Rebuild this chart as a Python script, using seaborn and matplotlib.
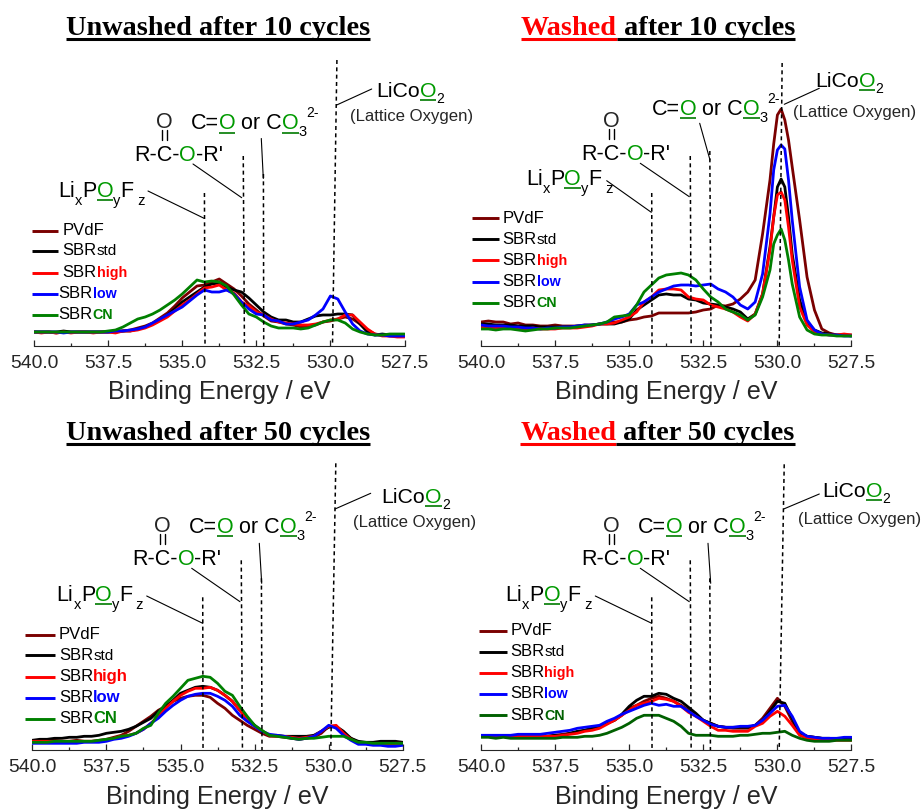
import pandas as pd
import seaborn as sns
import matplotlib.pyplot as plt

# binding energy grid (eV)
energy = [540, 539.75, 539.5, 539.25, 539, 538.75, 538.5, 538.25,
          538, 537.75, 537.5, 537.25, 537, 536.75, 536.5, 536.25,
          536, 535.75, 535.5, 535.25, 535, 534.75, 534.5, 534.25,
          534, 533.75, 533.5, 533.25, 533, 532.75, 532.5, 532.25,
          532, 531.75, 531.5, 531.25, 531, 530.75, 530.5, 530.25,
          530, 529.75, 529.5, 529.25, 529, 528.75, 528.5, 528.25,
          528, 527.75, 527.5]
# washed 10 cycles has a sharp peak, so a few more points there
energy_w10 = energy[:40] + [530.125, 530, 529.875, 529.75, 529.625] + energy[42:]

series = ['PVdF', 'SBRstd', 'SBRhigh', 'SBRlow', 'SBRCN']

# intensity (arbitrary units)
u10_pvdf = [14, 14, 14, 13, 14, 14, 14, 14, 14, 14, 14, 15, 15, 16, 18, 20, 23, 28, 33, 40, 48, 54, 60, 61,
            64, 67, 62, 57, 50, 42, 36, 30, 25, 24, 22, 21, 19, 20, 21, 24, 25, 27, 29, 27, 22, 16, 12, 11, 10, 10, 10]
u10_std = [14, 14, 14, 14, 15, 14, 14, 14, 14, 14, 14, 14, 15, 15, 17, 19, 22, 26, 31, 37, 44, 49, 54, 59,
           62, 63, 59, 56, 54, 48, 41, 34, 29, 26, 26, 24, 24, 27, 30, 31, 31, 32, 32, 31, 22, 14, 11, 12, 11, 11, 10]
u10_high = [14, 13, 14, 13, 14, 13, 14, 14, 13, 14, 14, 13, 15, 15, 16, 18, 21, 25, 29, 35, 41, 46, 52, 58,
            59, 61, 56, 53, 44, 40, 34, 31, 27, 24, 23, 22, 21, 21, 22, 24, 26, 27, 31, 31, 24, 17, 12, 10, 10, 9, 9]
u10_low = [14, 14, 14, 14, 13, 14, 14, 14, 14, 14, 14, 15, 15, 16, 17, 19, 23, 27, 31, 35, 39, 45, 51, 56,
           54, 54, 56, 52, 44, 37, 32, 31, 26, 25, 22, 22, 24, 26, 31, 37, 50, 47, 34, 22, 15, 12, 11, 11, 10, 10, 10]
u10_cn = [14, 14, 14, 14, 14, 14, 14, 14, 14, 14, 15, 16, 19, 23, 27, 29, 32, 36, 41, 46, 52, 59, 66, 64,
          65, 64, 60, 51, 41, 32, 29, 24, 20, 18, 18, 18, 17, 18, 21, 24, 26, 26, 23, 17, 14, 12, 11, 11, 12, 12, 12]

w10_pvdf = [24, 25, 24, 24, 22, 23, 21, 21, 20, 20, 21, 20, 20, 20, 21, 21, 22, 23, 24, 24, 26, 27, 29, 30,
            33, 33, 33, 33, 33, 34, 36, 37, 41, 40, 42, 47, 54, 66, 112, 166, 202, 231, 237, 226, 206, 179, 126,
            69, 36, 17, 13, 11, 11, 11]
w10_std = [22, 22, 21, 21, 21, 20, 20, 20, 19, 19, 19, 19, 19, 20, 20, 21, 22, 22, 22, 24, 27, 36, 41, 46,
           51, 52, 51, 51, 47, 46, 43, 42, 41, 39, 37, 34, 27, 32, 52, 99, 129, 159, 167, 159, 129, 92, 46,
           24, 16, 13, 12, 11, 11, 10]
w10_high = [19, 19, 18, 19, 18, 18, 17, 18, 17, 17, 17, 18, 18, 18, 19, 20, 22, 22, 23, 26, 29, 34, 44, 49,
            56, 57, 57, 56, 49, 47, 46, 41, 39, 37, 34, 29, 25, 32, 52, 96, 129, 151, 154, 146, 119, 86, 39,
            21, 14, 12, 11, 11, 12, 11]
w10_low = [21, 20, 20, 20, 19, 19, 18, 18, 17, 18, 18, 19, 19, 20, 21, 21, 22, 24, 27, 29, 32, 41, 44, 49,
           54, 57, 60, 61, 61, 60, 61, 62, 57, 54, 49, 41, 37, 44, 72, 132, 176, 196, 201, 197, 166, 126, 59,
           26, 16, 12, 11, 11, 10, 10]
w10_cn = [17, 17, 16, 17, 17, 16, 15, 16, 17, 17, 18, 18, 18, 19, 20, 21, 22, 24, 29, 30, 31, 41, 54, 61,
          68, 71, 72, 73, 71, 66, 57, 49, 44, 37, 34, 31, 26, 31, 49, 76, 102, 111, 117, 106, 86, 62, 29,
          16, 12, 11, 11, 10, 10, 10]

u50_pvdf = [9, 9, 9, 10, 9, 9, 10, 9, 9, 10, 11, 13, 15, 19, 24, 29, 34, 40, 44, 49, 52, 54, 55, 55,
            53, 47, 42, 35, 30, 25, 21, 17, 14, 14, 13, 12, 11, 12, 13, 17, 24, 24, 17, 12, 8, 7, 6, 6, 6, 7, 7]
u50_std = [10, 11, 11, 12, 12, 13, 13, 14, 14, 15, 17, 18, 19, 21, 24, 28, 32, 39, 44, 50, 57, 60, 63, 64,
           63, 60, 55, 49, 40, 32, 25, 19, 15, 15, 14, 14, 14, 14, 15, 19, 23, 24, 19, 12, 9, 8, 8, 9, 9, 9, 8]
u50_high = [9, 9, 9, 9, 9, 9, 9, 9, 9, 9, 10, 12, 14, 15, 17, 21, 27, 34, 42, 49, 55, 59, 62, 62,
            63, 60, 55, 49, 40, 30, 24, 19, 15, 14, 14, 13, 12, 13, 14, 19, 24, 25, 17, 11, 7, 7, 6, 6, 6, 7, 7]
u50_low = [7, 7, 7, 7, 7, 7, 7, 8, 8, 8, 9, 11, 12, 14, 17, 21, 27, 32, 39, 45, 50, 54, 56, 57,
           57, 54, 50, 44, 35, 29, 24, 19, 16, 15, 14, 12, 11, 12, 14, 19, 25, 22, 15, 10, 6, 6, 5, 5, 4, 4, 5]
u50_cn = [8, 8, 8, 9, 9, 9, 9, 9, 9, 10, 11, 12, 14, 15, 17, 22, 25, 37, 47, 54, 62, 70, 72, 74,
          73, 67, 59, 55, 44, 34, 25, 20, 15, 14, 13, 12, 11, 12, 12, 13, 14, 14, 14, 11, 8, 8, 7, 7, 7, 7, 7]

w50_pvdf = [14, 14, 14, 14, 14, 14, 14, 14, 14, 14, 15, 16, 17, 18, 20, 22, 24, 27, 30, 35, 42, 45, 49, 52,
            54, 52, 49, 45, 40, 35, 30, 27, 24, 23, 22, 22, 22, 25, 32, 42, 52, 44, 29, 17, 14, 13, 12, 11, 11, 11, 11]
w50_std = [14, 14, 14, 14, 14, 14, 14, 14, 14, 14, 15, 15, 17, 19, 20, 22, 24, 27, 30, 36, 44, 50, 54, 54,
           57, 56, 52, 49, 43, 37, 30, 27, 24, 23, 23, 23, 23, 25, 30, 39, 49, 47, 32, 17, 14, 13, 12, 12, 11, 11, 11]
w50_high = [14, 14, 13, 14, 13, 14, 14, 14, 14, 14, 14, 15, 16, 17, 19, 20, 22, 26, 30, 35, 40, 45, 47, 49,
            52, 51, 49, 44, 38, 34, 29, 24, 20, 20, 19, 19, 19, 24, 27, 34, 39, 34, 25, 15, 12, 11, 11, 10, 10, 10, 10]
w50_low = [15, 15, 15, 15, 15, 16, 16, 16, 16, 17, 18, 19, 20, 22, 23, 24, 25, 29, 32, 36, 39, 42, 45, 47,
           45, 46, 44, 44, 39, 34, 30, 26, 24, 23, 23, 24, 24, 25, 30, 37, 44, 45, 34, 19, 14, 13, 12, 12, 12, 13, 13]
w50_cn = [13, 13, 12, 13, 12, 12, 12, 12, 12, 12, 12, 13, 13, 13, 14, 14, 15, 17, 20, 23, 27, 32, 35, 35,
          35, 32, 29, 24, 17, 15, 15, 15, 14, 14, 14, 15, 15, 16, 17, 17, 18, 19, 15, 12, 10, 9, 9, 9, 10, 10, 10]

# dashed peak markers: energy at top, energy at bottom, height at top
peak_top = {'u10': [534.25, 532.94, 532.26, 529.78], 'w10': [534.24, 532.94, 532.28, 529.84],
            'u50': [534.25, 532.95, 532.27, 529.76], 'w50': [534.24, 532.94, 532.28, 529.77]}
peak_bottom = {'u10': [534.23, 532.90, 532.25, 529.93], 'w10': [534.23, 532.91, 532.24, 529.94],
               'u50': [534.24, 532.91, 532.25, 529.93], 'w50': [534.23, 532.91, 532.26, 529.94]}
peak_height = {'u10': [153, 190, 172, 286], 'w10': [153, 190, 195, 283],
               'u50': [153, 190, 172, 287], 'w50': [153, 190, 172, 286]}

colors = ['#7a0000', '#000000', '#ff0000', '#0000ff', '#008000']
W, H = 923, 809
O_GREEN = '#009a00'
UL_GREEN = '#007a00'

sns.set_style('ticks')
plt.rcParams['font.family'] = ['Liberation Sans', 'DejaVu Sans']

fig = plt.figure(figsize=(W / 100, H / 100), dpi=100)
ov = fig.add_axes([0, 0, 1, 1], zorder=5)
ov.set_xlim(0, W)
ov.set_ylim(H, 0)
ov.axis('off')
ov.patch.set_alpha(0)
rend = fig.canvas.get_renderer()


def rich(x, y, parts):
    # parts: text, size, color, weight, y shift, underline
    for s, size, col, weight, dy, ul in parts:
        t = ov.text(x, y + dy, s, fontsize=size, color=col, fontweight=weight, va='baseline', ha='left')
        w = t.get_window_extent(rend).width
        if ul:
            ov.plot([x, x + w], [y + 3.2, y + 3.2], color=UL_GREEN, lw=1.2, solid_capstyle='butt')
        x += w
    return x


def title(x, y, parts, ul_y):
    for s, col in parts:
        t = ov.text(x, y, s, fontsize=20.3, color=col, fontweight='bold', family='Liberation Serif',
                    va='baseline', ha='left')
        w = t.get_window_extent(rend).width
        ov.plot([x, x + w], [ul_y, ul_y], color=col, lw=2.2, solid_capstyle='butt')
        x += w


def panel(key, x_en, values, x0, base, texts, leaders, legend, pal):
    ax = fig.add_axes([x0 / W, 1 - base / H, 370.5 / W, 300 / H], zorder=1)
    df = pd.concat([pd.DataFrame({'energy': x_en, 'intensity': v, 'binder': n}) for n, v in zip(series, values)])
    sns.lineplot(data=df, x='energy', y='intensity', hue='binder', palette=dict(zip(series, pal)),
                 hue_order=series, estimator=None, lw=2.0, legend=False, ax=ax)
    for a, b, h in zip(peak_top[key], peak_bottom[key], peak_height[key]):
        ax.plot([a, b], [h, 0], color='black', lw=1.1, ls=(0, (2.6, 2.2)), zorder=6)
    ax.set_xlim(540, 527.5)
    ax.set_ylim(0, 300)
    ax.set_xticks([540, 537.5, 535, 532.5, 530, 527.5])
    ax.set_xticklabels(['540.0', '537.5', '535.0', '532.5', '530.0', '527.5'], fontsize=13.9)
    ax.set_xticks([538.75, 536.25, 533.75, 531.25, 528.75], minor=True)
    ax.tick_params(axis='x', which='major', direction='in', length=4.5, width=0.9, pad=6.5)
    ax.tick_params(axis='x', which='minor', direction='in', length=2.3, width=0.9)
    ax.set_yticks([])
    ax.set_ylabel('')
    ax.set_xlabel('Binding Energy / eV', fontsize=18.1, labelpad=6)
    ax.patch.set_alpha(0)
    sns.despine(ax=ax, left=True)

    px, py = texts['li']
    rich(px, py, [('Li', 15.5, 'black', 'normal', 0, False), ('x', 10.5, 'black', 'normal', 8, False),
                  ('P', 15.5, 'black', 'normal', 0, False), ('O', 15.5, O_GREEN, 'normal', 0, True),
                  ('y', 10.5, 'black', 'normal', 8, False), ('F', 15.5, 'black', 'normal', 0, False),
                  (' z', 10.5, 'black', 'normal', 8, False)])
    px, py = texts['ester']
    rich(px, py, [('R-C-', 15.5, 'black', 'normal', 0, False), ('O', 15.5, O_GREEN, 'normal', 0, False),
                  ("-R'", 15.5, 'black', 'normal', 0, False)])
    px, py = texts['carbonyl']
    ov.text(px, py, 'O', fontsize=15.5, ha='center', va='baseline')
    ov.plot([px - 2.3, px - 2.3], [py + 2, py + 12], color='black', lw=1.0)
    ov.plot([px + 2.3, px + 2.3], [py + 2, py + 12], color='black', lw=1.0)
    px, py = texts['co3']
    end = rich(px, py, [('C=', 15.5, 'black', 'normal', 0, False), ('O', 15.5, O_GREEN, 'normal', 0, True),
                        (' or C', 15.5, 'black', 'normal', 0, False), ('O', 15.5, O_GREEN, 'normal', 0, True),
                        ('3', 10.5, 'black', 'normal', 7, False)])
    rich(end, py, [('2-', 10, 'black', 'normal', -12, False)])
    px, py = texts['licoo']
    rich(px, py, [('LiCo', 15.3, 'black', 'normal', 0, False), ('O', 15.3, O_GREEN, 'normal', 0, True),
                  ('2', 10, 'black', 'normal', 6, False)])
    px, py = texts['lattice']
    ov.text(px, py, '(Lattice Oxygen)', fontsize=12.1, ha='left', va='baseline')

    for (xa, ya), (xb, yb) in leaders:
        ov.plot([xa, xb], [ya, yb], color='black', lw=0.8)

    lx0, lx1, tx, ys, bold_size, tx_shift = legend
    labels = [[('PVdF', 12, 'black', 'normal', 0, False)],
              [('SBR', 12, 'black', 'normal', 0, False), ('std', 11, 'black', 'normal', 0, False)],
              [('SBR', 12, 'black', 'normal', 0, False), ('high', bold_size, pal[2], 'bold', 0, False)],
              [('SBR', 12, 'black', 'normal', 0, False), ('low', bold_size, pal[3], 'bold', 0, False)],
              [('SBR', 12, 'black', 'normal', 0, False), ('CN', bold_size, pal[4], 'bold', 0, False)]]
    for i, (yy, lab) in enumerate(zip(ys, labels)):
        ov.plot([lx0, lx1], [yy, yy], color=pal[i], lw=2.1, solid_capstyle='butt')
        rich(tx - (tx_shift if i >= 3 else 0), yy + 4.4, lab)


# unwashed 10
panel('u10', energy, [u10_pvdf, u10_std, u10_high, u10_low, u10_cn], 34, 346,
      {'li': (58.3, 196.7), 'ester': (134, 161), 'carbonyl': (164.3, 128), 'co3': (190.7, 129.3),
       'licoo': (376, 97), 'lattice': (350, 120.7)},
      [((148, 191), (204.5, 218.5)), ((193, 164), (241.7, 197.7)), ((261.3, 138.5), (263.3, 178.5)),
       ((371.7, 89), (336.7, 105))],
      (31.7, 58.3, 62.7, [230.7, 251, 272.7, 293.7, 314.7], 10.3, 4.3), colors)
title(65.7, 35, [('Unwashed after 10 cycles', 'black')], 39.3)

# washed 10
panel('w10', energy_w10, [w10_pvdf, w10_std, w10_high, w10_low, w10_cn], 481, 346,
      {'li': (526, 185), 'ester': (581, 160), 'carbonyl': (611.7, 126.7), 'co3': (651.7, 115),
       'licoo': (815.3, 86.7), 'lattice': (792.7, 116.7)},
      [((606.7, 180.7), (651.3, 212.3)), ((640.3, 163.3), (689.3, 196.7)), ((699.7, 123.3), (710, 160)),
       ((819.3, 88.3), (784.3, 104.3))],
      (471.7, 498.7, 502.7, [218.3, 239.3, 260.3, 281.7, 302.7], 10.3, 0), colors)
title(521, 35, [('Washed', '#ff0000'), (' after 10 cycles', 'black')], 39.3)

# unwashed 50
panel('u50', energy, [u50_pvdf, u50_std, u50_high, u50_low, u50_cn], 32.3, 750.3,
      {'li': (56.7, 601), 'ester': (132.3, 565), 'carbonyl': (162.7, 531.7), 'co3': (188.7, 533),
       'licoo': (381.7, 502.7), 'lattice': (352.7, 526.7)},
      [((146.7, 596), (202.7, 623.3)), ((191.7, 568.3), (240, 601.7)), ((259.3, 543.3), (261.7, 583.3)),
       ((370.7, 493.3), (335, 509))],
      (25.3, 55, 59, [634.7, 655.3, 676.7, 697.7, 718.7], 12, 0), colors)
title(65.7, 440, [('Unwashed after 50 cycles', 'black')], 444.3)

# washed 50, CN is a darker green here
panel('w50', energy, [w50_pvdf, w50_std, w50_high, w50_low, w50_cn], 481, 750.3,
      {'li': (505.3, 601), 'ester': (581, 565), 'carbonyl': (611.7, 531.7), 'co3': (637.7, 533),
       'licoo': (822, 496.7), 'lattice': (797.7, 524.3)},
      [((595.3, 596), (651.7, 623.3)), ((640.3, 568.3), (689.3, 601.7)), ((708, 543.3), (710.7, 583.3)),
       ((819.3, 494), (783.7, 509))],
      (479.3, 506.7, 510.3, [631, 652, 673, 694, 715.3], 10.3, 0),
      colors[:4] + ['#006000'])
title(520.3, 440, [('Washed', '#ff0000'), (' after 50 cycles', 'black')], 444.3)

plt.savefig('out.png', dpi=100)
plt.close()
